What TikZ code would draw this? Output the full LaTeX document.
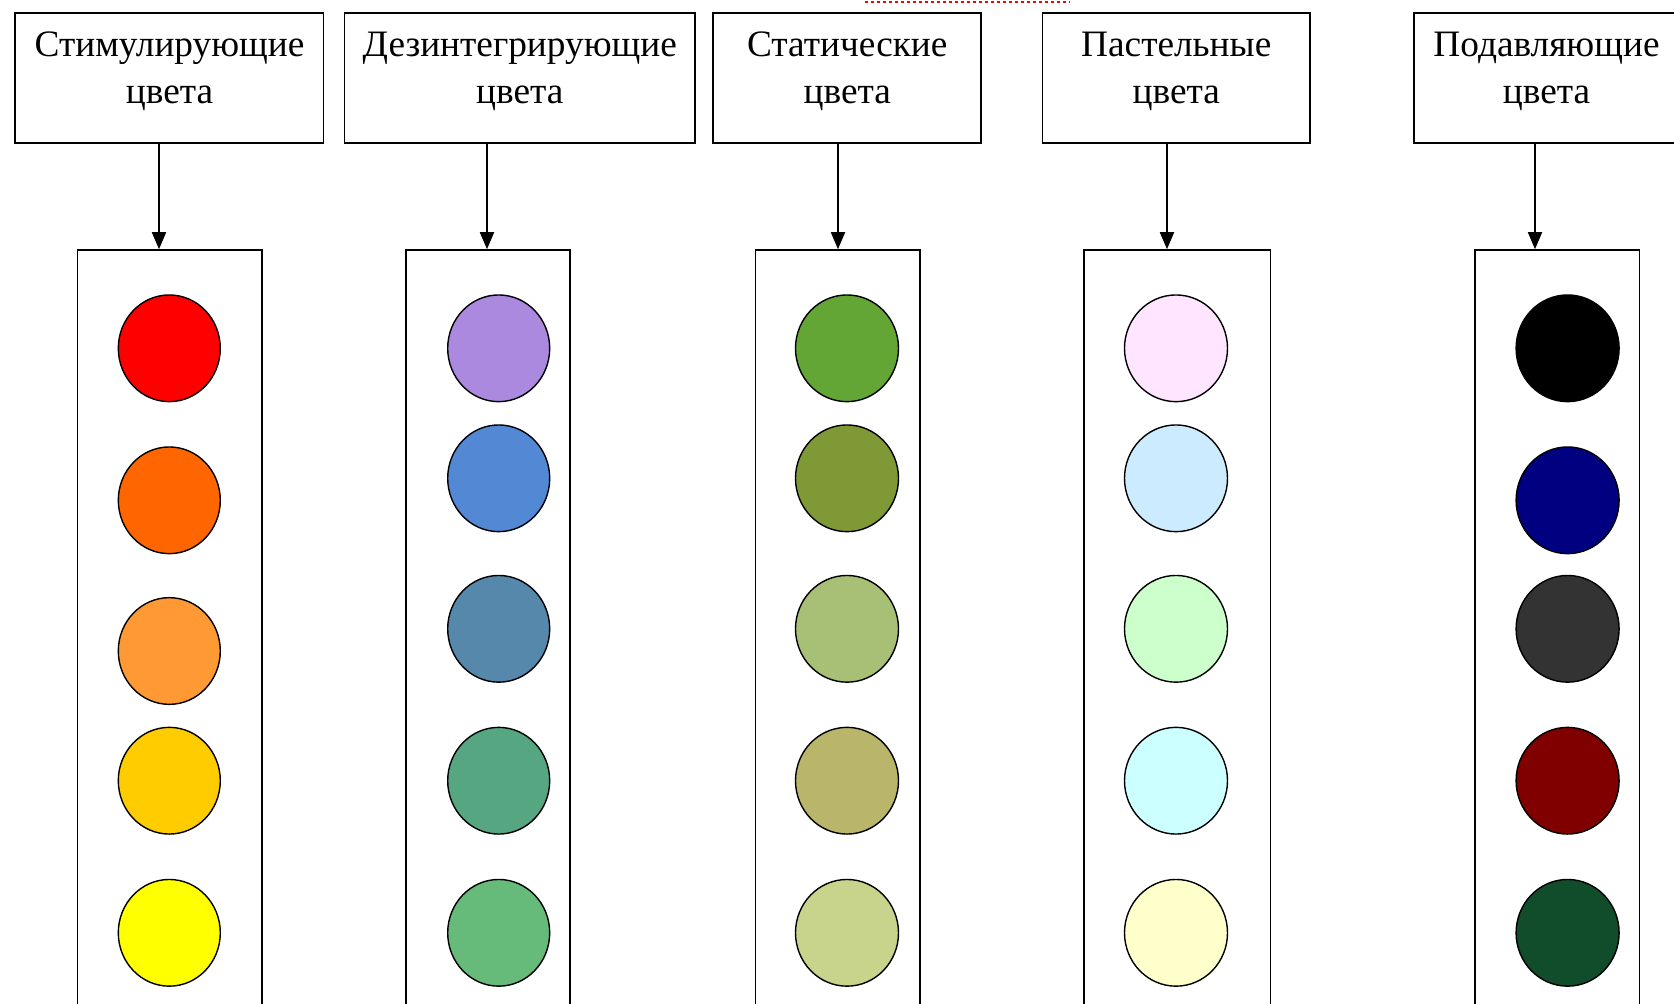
\documentclass[tikz,border=0pt]{standalone}
\usepackage{fontspec}
\setmainfont{Liberation Serif}
\usetikzlibrary{shapes.geometric,arrows.meta}
\definecolor{cA1}{HTML}{FF0000}
\definecolor{cA2}{HTML}{FF6600}
\definecolor{cA3}{HTML}{FF9933}
\definecolor{cA4}{HTML}{FFCC00}
\definecolor{cA5}{HTML}{FFFF00}
\definecolor{cB1}{HTML}{AA89DF}
\definecolor{cB2}{HTML}{5388D5}
\definecolor{cB3}{HTML}{5588AA}
\definecolor{cB4}{HTML}{56A682}
\definecolor{cB5}{HTML}{66BA7A}
\definecolor{cC1}{HTML}{63A636}
\definecolor{cC2}{HTML}{7F9937}
\definecolor{cC3}{HTML}{A8BF76}
\definecolor{cC4}{HTML}{B9B56A}
\definecolor{cC5}{HTML}{C8D48B}
\definecolor{cD1}{HTML}{FFE5FF}
\definecolor{cD2}{HTML}{CCEBFF}
\definecolor{cD3}{HTML}{CCFFCC}
\definecolor{cD4}{HTML}{CCFFFF}
\definecolor{cD5}{HTML}{FFFFCC}
\definecolor{cE1}{HTML}{000000}
\definecolor{cE2}{HTML}{000080}
\definecolor{cE3}{HTML}{333333}
\definecolor{cE4}{HTML}{800000}
\definecolor{cE5}{HTML}{124D2B}
\tikzset{
  headbox/.style={draw, line width=1.8pt, rectangle, inner sep=0pt, minimum height=129.4pt},
  colbox/.style={draw, line width=1.6pt, rectangle, inner sep=0pt, minimum height=780pt},
  lbl/.style={anchor=base, inner sep=0pt, font=\fontsize{37.3}{45}\selectfont},
  dot/.style={draw, ellipse, line width=1.4pt, inner sep=0pt, minimum width=102pt, minimum height=106.7pt},
  arr/.style={line width=1.8pt, -{Triangle[width=14pt,length=17pt]}},
}
\begin{document}
\begin{tikzpicture}[x=1pt,y=-1pt]
\useasboundingbox (0,0) rectangle (1674,1004);
\fill[white] (0,0) rectangle (1674,1004);
% spell-check underline of the cut-off title
\draw[red, line width=2pt, dash pattern=on 3pt off 3pt] (865,2) -- (1070,2);
% header boxes
\node[headbox, minimum width=308.5pt] (t1) at (169.25,78) {};
\node[headbox, minimum width=350.7pt] (t2) at (519.75,78) {};
\node[headbox, minimum width=267.9pt] (t3) at (847.25,78) {};
\node[headbox, minimum width=267.5pt] (t4) at (1176.25,78) {};
\node[headbox, minimum width=265.8pt] (t5) at (1546.5,78) {};
% header texts
\node[lbl] (l1a) at (169.5,56.7) {Стимулирующие};
\node[lbl] (l1b) at (169.5,103.3) {цвета};
\node[lbl] (l2a) at (519.75,56.7) {Дезинтегрирующие};
\node[lbl] (l2b) at (519.75,103.3) {цвета};
\node[lbl] (l3a) at (847.25,56.7) {Статические};
\node[lbl] (l3b) at (847.25,103.3) {цвета};
\node[lbl] (l4a) at (1176.25,56.7) {Пастельные};
\node[lbl] (l4b) at (1176.25,103.3) {цвета};
\node[lbl] (l5a) at (1546.5,56.7) {Подавляющие};
\node[lbl] (l5b) at (1546.5,103.3) {цвета};
% column boxes
\node[colbox, minimum width=184.7pt] (b1) at (169.75,640) {};
\node[colbox, minimum width=164.4pt] (b2) at (488,640) {};
\node[colbox, minimum width=164.2pt] (b3) at (837.6,640) {};
\node[colbox, minimum width=186.5pt] (b4) at (1177.25,640) {};
\node[colbox, minimum width=164.5pt] (b5) at (1557.25,640) {};
% arrow positions
\coordinate (a1) at (159,0);
\coordinate (a2) at (487,0);
\coordinate (a3) at (838,0);
\coordinate (a4) at (1167,0);
\coordinate (a5) at (1535,0);
\draw[arr] (t1.south -| a1) -- (b1.north -| a1);
\draw[arr] (t2.south -| a2) -- (b2.north -| a2);
\draw[arr] (t3.south -| a3) -- (b3.north -| a3);
\draw[arr] (t4.south -| a4) -- (b4.north -| a4);
\draw[arr] (t5.south -| a5) -- (b5.north -| a5);
% column 1
\node[dot, fill=cA1] (d11) at (169.3,348.3) {};
\node[dot, fill=cA2] (d12) at (169.3,500.3) {};
\node[dot, fill=cA3] (d13) at (169.3,651) {};
\node[dot, fill=cA4] (d14) at (169.3,780.7) {};
\node[dot, fill=cA5] (d15) at (169.3,932.8) {};
% column 2
\node[dot, fill=cB1] (d21) at (498.7,348.3) {};
\node[dot, fill=cB2] (d22) at (498.7,478.3) {};
\node[dot, fill=cB3] (d23) at (498.7,628.8) {};
\node[dot, fill=cB4] (d24) at (498.7,780.7) {};
\node[dot, fill=cB5] (d25) at (498.7,932.8) {};
% column 3
\node[dot, fill=cC1, minimum width=103pt] (d31) at (847,348.3) {};
\node[dot, fill=cC2, minimum width=103pt] (d32) at (847,478.3) {};
\node[dot, fill=cC3, minimum width=103pt] (d33) at (847,628.8) {};
\node[dot, fill=cC4, minimum width=103pt] (d34) at (847,780.7) {};
\node[dot, fill=cC5, minimum width=103pt] (d35) at (847,932.8) {};
% column 4
\node[dot, fill=cD1, minimum width=103pt] (d41) at (1176,348.3) {};
\node[dot, fill=cD2, minimum width=103pt] (d42) at (1176,478.3) {};
\node[dot, fill=cD3, minimum width=103pt] (d43) at (1176,628.8) {};
\node[dot, fill=cD4, minimum width=103pt] (d44) at (1176,780.7) {};
\node[dot, fill=cD5, minimum width=103pt] (d45) at (1176,932.8) {};
% column 5
\node[dot, fill=cE1, minimum width=103pt] (d51) at (1567.6,348.3) {};
\node[dot, fill=cE2, minimum width=103pt] (d52) at (1567.6,500.3) {};
\node[dot, fill=cE3, minimum width=103pt] (d53) at (1567.6,628.8) {};
\node[dot, fill=cE4, minimum width=103pt] (d54) at (1567.6,780.7) {};
\node[dot, fill=cE5, minimum width=103pt] (d55) at (1567.6,932.8) {};
\end{tikzpicture}
\end{document}
